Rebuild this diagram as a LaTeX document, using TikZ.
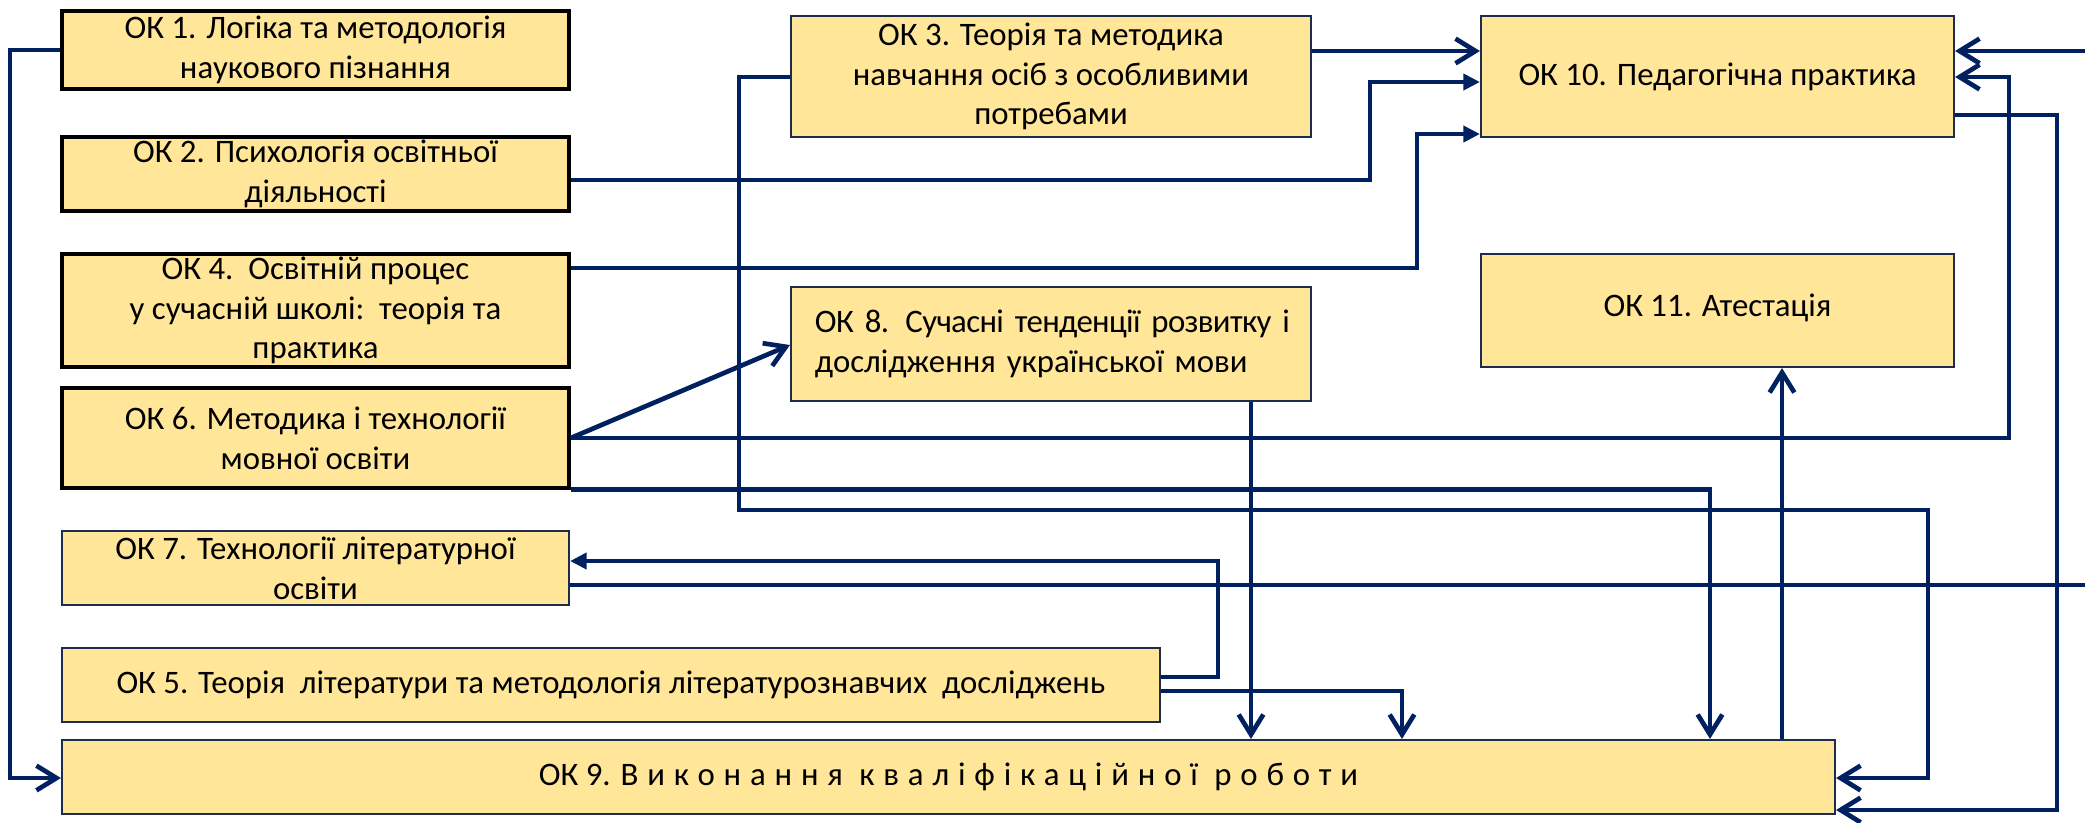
\documentclass[tikz,border=0pt]{standalone}
\usepackage{fontspec}
\setmainfont{Carlito}
\usetikzlibrary{arrows.meta}
\definecolor{boxfill}{HTML}{FFE699}
\definecolor{boxline}{HTML}{1F2D4D}
\definecolor{navy}{HTML}{002060}
\tikzset{
  box/.style={draw=boxline, line width=0.9pt, fill=boxfill, inner sep=0pt, align=center,
    font=\fontsize{14}{17}\selectfont},
  boxk/.style={box, draw=black, line width=1.5pt},
  conn/.style={draw=navy, line width=2pt},
  opena/.style={conn, -{Straight Barb[length=0.3cm,width=0.37cm]}},
  filla/.style={conn, -{Triangle[length=0.25cm,width=0.24cm]}},
}
\begin{document}
\begin{tikzpicture}[x=0.015cm, y=-0.015cm]
\useasboundingbox (0,0) rectangle (2085,822);
% boxes
\node[boxk, minimum width=7.605cm, minimum height=1.17cm] (ok1) at (315.5,50)
  {ОК 1. Логіка та методологія\\наукового пізнання};
\node[boxk, minimum width=7.605cm, minimum height=1.11cm] (ok2) at (315.5,174)
  {ОК 2. Психологія освітньої\\діяльності};
\node[boxk, minimum width=7.605cm, minimum height=1.695cm] (ok4) at (315.5,310.5)
  {ОК 4.\ \ Освітній процес\\у сучасній школі:\ \ теорія та\\практика};
\node[boxk, minimum width=7.605cm, minimum height=1.5cm] (ok6) at (315.5,438)
  {ОК 6. Методика і технології\\мовної освіти};
\node[box, minimum width=7.605cm, minimum height=1.11cm] (ok7) at (315.5,568)
  {ОК 7. Технології літературної\\освіти};
\node[box, minimum width=16.47cm, minimum height=1.11cm] (ok5) at (611,685)
  {ОК 5. Теорія\ \ літератури та методологія літературознавчих\ \ досліджень};
\node[box, minimum width=26.595cm, minimum height=1.11cm] (ok9) at (948.5,777)
  {ОК 9. {\addfontfeature{LetterSpace=27}Виконання кваліфікаційної роботи}};
\node[box, minimum width=7.8cm, minimum height=1.815cm] (ok3) at (1051,76.5)
  {ОК 3. Теорія та методика\\навчання осіб з особливими\\потребами};
\node[box, minimum height=1.71cm, text width=7.8cm, align=left] (ok8) at (1051,344)
  {\hspace*{0.36cm}\mbox{\addfontfeature{LetterSpace=-2}ОК 8. Сучасні тенденції розвитку і}\\\hspace*{0.36cm}\mbox{дослідження української мови}};
\node[box, minimum width=7.095cm, minimum height=1.815cm] (ok10) at (1717.5,76.5)
  {ОК 10. Педагогічна практика};
\node[box, minimum width=7.095cm, minimum height=1.695cm] (ok11) at (1717.5,310.5)
  {\raisebox{0.15cm}{ОК 11. Атестація}};
% free ends
\coordinate (inR) at (2085,51);
\coordinate (outR) at (2085,585);
% connectors
\draw[opena] (ok1.west) -| (10,778) -- (ok9.west |- 0,778);
\draw[opena] (ok3.east |- 0,51) -- (ok10.west |- 0,51);
\draw[opena] (inR) -- (ok10.east |- inR);
\draw[filla] (ok2.east |- 0,180) -| (1370,82) -- (ok10.west |- 0,82);
\draw[filla] (ok4.east |- 0,268) -| (1417,134) -- (ok10.west |- 0,134);
\draw[opena] (ok6.east |- 0,438) -- (ok8.west |- 0,345);
\draw[opena] (ok6.east |- 0,438) -| (2009,77) -- (ok10.east |- 0,77);
\draw[opena] (ok6.south east) -| (ok9.north -| 1710,0);
\draw[opena] (ok3.west |- 0,77) -| (739,510) -| (1928,778) -- (ok9.east |- 0,778);
\draw[opena] (ok10.east |- 0,115) -| (2057,810) -- (ok9.east |- 0,810);
\draw[conn] (ok7.east |- 0,585) -- (outR);
\draw[filla] (ok5.east |- 0,677) -| (1218,561) -- (ok7.east |- 0,561);
\draw[opena] (ok5.east |- 0,691) -| (ok9.north -| 1402,0);
\draw[opena] (ok8.south -| 1251,0) -- (ok9.north -| 1251,0);
\draw[opena] (ok9.north -| 1782,0) -- (ok11.south -| 1782,0);
\end{tikzpicture}
\end{document}
